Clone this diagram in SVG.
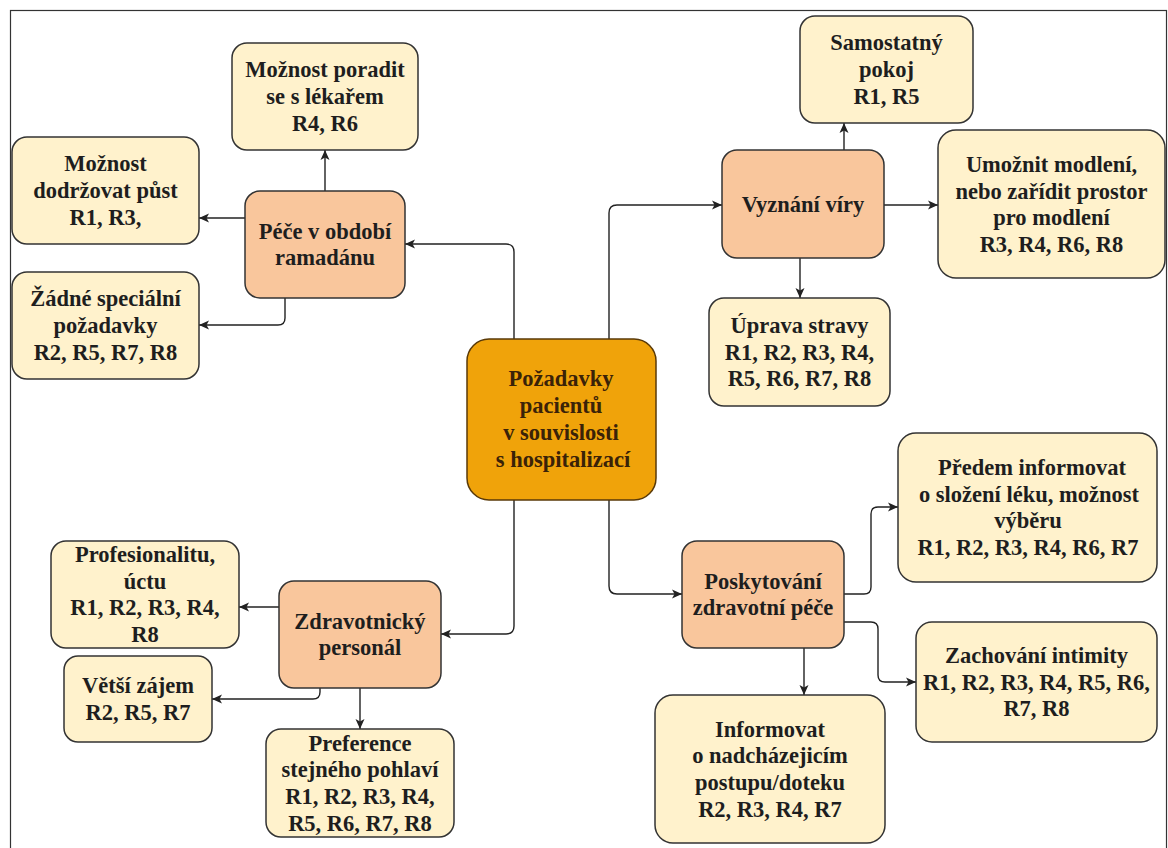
<svg xmlns="http://www.w3.org/2000/svg" width="1168" height="848" viewBox="0 0 1168 848">
<style>
.leaf{fill:#FFF2CC;stroke:#333;stroke-width:1.5}
.sub{fill:#F9C69C;stroke:#333;stroke-width:1.5}
.main{fill:#F0A30A;stroke:#5a3a08;stroke-width:1.5}
text{font-family:"Liberation Serif","Times New Roman",serif;font-weight:bold;font-size:22.5px;fill:#1e1e1e;text-anchor:middle}
.mt{fill:#3a2208}
.con{fill:none;stroke:#222;stroke-width:1.4;marker-end:url(#arr)}
</style>
<defs>
<marker id="arr" markerUnits="userSpaceOnUse" markerWidth="12" markerHeight="12" viewBox="0 0 12 12" refX="11" refY="6" orient="auto">
<path d="M1,1.5 L11,6 L1,10.5 L3.5,6 Z" fill="#222"/>
</marker>
</defs>
<rect x="0" y="0" width="1168" height="848" fill="#fff"/>
<rect x="10.5" y="10.5" width="1156" height="850" fill="none" stroke="#333" stroke-width="1.2"/>
<g id="connectors">
<path class="con" d="M514,339 V252 Q514,244 506,244 H405"/>
<path class="con" d="M609,339 V213 Q609,205 617,205 H722"/>
<path class="con" d="M514,500 V626 Q514,634 506,634 H441"/>
<path class="con" d="M609,500 V586 Q609,594 617,594 H682"/>
<path class="con" d="M325,191 V150"/>
<path class="con" d="M245,218 H199"/>
<path class="con" d="M285,298 V318 Q285,325 278,325 H199"/>
<path class="con" d="M844,150 V123"/>
<path class="con" d="M884,205 H938"/>
<path class="con" d="M800,258 V298"/>
<path class="con" d="M279,607 H239"/>
<path class="con" d="M320,688 V692 Q320,699 313,699 H212"/>
<path class="con" d="M360,688 V729"/>
<path class="con" d="M844,594 H864 Q871,594 871,587 V514 Q871,507 878,507 H898"/>
<path class="con" d="M844,622 H871 Q878,622 878,629 V675 Q878,682 885,682 H916"/>
<path class="con" d="M804,648 V695"/>
</g>
<g id="n-main">
<rect class="main" x="467" y="339" width="189" height="161" rx="22"/>
<text class="mt" x="561" y="386">Požadavky</text>
<text class="mt" x="561" y="413">pacientů</text>
<text class="mt" x="561" y="440">v souvislosti</text>
<text class="mt" x="563" y="467">s hospitalizací</text>
</g>
<g id="n-pece">
<rect class="sub" x="245" y="191" width="160" height="107" rx="15"/>
<text x="325" y="238.5">Péče v období</text>
<text x="325" y="265">ramadánu</text>
</g>
<g id="n-poradit">
<rect class="leaf" x="232" y="43" width="186" height="107" rx="15"/>
<text x="325" y="77">Možnost poradit</text>
<text x="325" y="104">se s lékařem</text>
<text x="325" y="131">R4, R6</text>
</g>
<g id="n-pust">
<rect class="leaf" x="12" y="137" width="187" height="107" rx="15"/>
<text x="105.5" y="171">Možnost</text>
<text x="105.5" y="198">dodržovat půst</text>
<text x="105.5" y="225">R1, R3,</text>
</g>
<g id="n-zadne">
<rect class="leaf" x="12" y="272" width="187" height="107" rx="15"/>
<text x="105.5" y="306">Žádné speciální</text>
<text x="105.5" y="333">požadavky</text>
<text x="105.5" y="360">R2, R5, R7, R8</text>
</g>
<g id="n-vyznani">
<rect class="sub" x="722" y="150" width="162" height="108" rx="15"/>
<text x="803" y="212">Vyznání víry</text>
</g>
<g id="n-pokoj">
<rect class="leaf" x="800" y="16" width="173" height="107" rx="15"/>
<text x="886.5" y="50">Samostatný</text>
<text x="886.5" y="77">pokoj</text>
<text x="886.5" y="104">R1, R5</text>
</g>
<g id="n-modleni">
<rect class="leaf" x="938" y="130" width="227" height="148" rx="18"/>
<text x="1051.5" y="172">Umožnit modlení,</text>
<text x="1051.5" y="198.6">nebo zařídit prostor</text>
<text x="1051.5" y="225.4">pro modlení</text>
<text x="1051.5" y="252">R3, R4, R6, R8</text>
</g>
<g id="n-strava">
<rect class="leaf" x="709" y="298" width="181" height="108" rx="15"/>
<text x="799.5" y="333">Úprava stravy</text>
<text x="799.5" y="359.5">R1, R2, R3, R4,</text>
<text x="799.5" y="386">R5, R6, R7, R8</text>
</g>
<g id="n-poskytovani">
<rect class="sub" x="682" y="541" width="162" height="107" rx="15"/>
<text x="763" y="588.6">Poskytování</text>
<text x="763" y="615.3">zdravotní péče</text>
</g>
<g id="n-predem">
<rect class="leaf" x="898" y="433" width="259" height="149" rx="18"/>
<text x="1032" y="475">Předem informovat</text>
<text x="1029" y="501.6">o složení léku, možnost</text>
<text x="1028" y="528.4">výběru</text>
<text x="1028" y="555">R1, R2, R3, R4, R6, R7</text>
</g>
<g id="n-intimita">
<rect class="leaf" x="916" y="622" width="241" height="120" rx="16"/>
<text x="1036.5" y="662.8">Zachování intimity</text>
<text x="1036.5" y="689.5">R1, R2, R3, R4, R5, R6,</text>
<text x="1036.5" y="716">R7, R8</text>
</g>
<g id="n-informovat">
<rect class="leaf" x="655" y="695" width="230" height="148" rx="18"/>
<text x="770" y="736.5">Informovat</text>
<text x="770" y="763">o nadcházejicím</text>
<text x="770" y="790">postupu/doteku</text>
<text x="770" y="816.5">R2, R3, R4, R7</text>
</g>
<g id="n-personal">
<rect class="sub" x="279" y="581" width="162" height="107" rx="15"/>
<text x="360" y="628.6">Zdravotnický</text>
<text x="360" y="655.3">personál</text>
</g>
<g id="n-profesionalitu">
<rect class="leaf" x="51" y="541" width="188" height="107" rx="15"/>
<text x="145" y="562">Profesionalitu,</text>
<text x="145" y="588.7">úctu</text>
<text x="145" y="615.4">R1, R2, R3, R4,</text>
<text x="145" y="642">R8</text>
</g>
<g id="n-zajem">
<rect class="leaf" x="64" y="656" width="148" height="86" rx="14"/>
<text x="138" y="693">Větší zájem</text>
<text x="138" y="719.8">R2, R5, R7</text>
</g>
<g id="n-pohlavi">
<rect class="leaf" x="266" y="729" width="188" height="108" rx="15"/>
<text x="360" y="750.5">Preference</text>
<text x="360" y="777">stejného pohlaví</text>
<text x="360" y="804">R1, R2, R3, R4,</text>
<text x="360" y="830.5">R5, R6, R7, R8</text>
</g>
</svg>
